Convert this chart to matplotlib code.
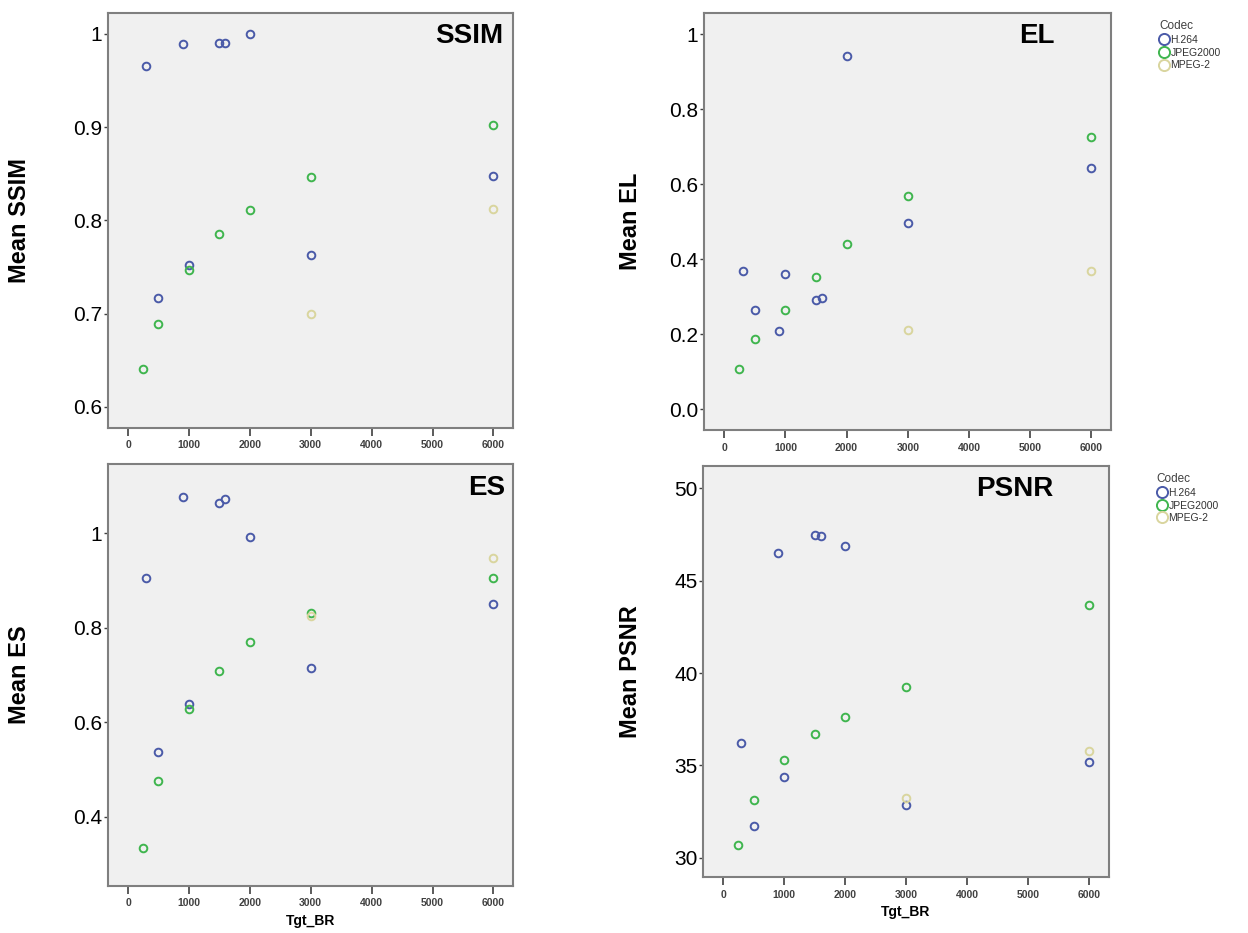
import matplotlib
matplotlib.use("Agg")
import matplotlib.pyplot as plt
from matplotlib.lines import Line2D

plt.rcParams['font.family'] = ['Liberation Sans', 'DejaVu Sans']

codecs = ["H.264", "JPEG2000", "MPEG-2"]
colors = {"H.264": "#4a5aa8", "JPEG2000": "#3fb54e", "MPEG-2": "#d9d59e"}

# target bit rates per codec
br_h264 = [300, 500, 900, 1000, 1500, 1600, 2000, 3000, 6000]
br_jpeg = [250, 500, 1000, 1500, 2000, 3000, 6000]
br_mpeg = [3000, 6000]

ssim_h264 = [0.966, 0.717, 0.989, 0.752, 0.990, 0.990, 1.000, 0.763, 0.848]
ssim_jpeg = [0.641, 0.689, 0.747, 0.785, 0.811, 0.847, 0.902]
ssim_mpeg = [0.700, 0.812]

el_h264 = [0.367, 0.263, 0.208, 0.360, 0.290, 0.296, 0.941, 0.497, 0.644]
el_jpeg = [0.106, 0.187, 0.265, 0.352, 0.439, 0.568, 0.725]
el_mpeg = [0.212, 0.367]

es_h264 = [0.904, 0.537, 1.077, 0.639, 1.064, 1.073, 0.992, 0.715, 0.851]
es_jpeg = [0.334, 0.476, 0.629, 0.709, 0.769, 0.832, 0.906]
es_mpeg = [0.825, 0.947]

psnr_h264 = [36.22, 31.73, 46.47, 34.39, 47.45, 47.39, 46.85, 32.86, 35.18]
psnr_jpeg = [30.70, 33.13, 35.27, 36.69, 37.64, 39.24, 43.69]
psnr_mpeg = [33.22, 35.77]

x_ticks = [0, 1000, 2000, 3000, 4000, 5000, 6000]

fig = plt.figure(figsize=(12.48, 9.33), dpi=100)

panels = [
    # rect, name, series, ylim, yticks, yticklabels, title x, ylabel x
    ([0.0865, 0.5413, 0.3245, 0.4448], "SSIM",
     (ssim_h264, ssim_jpeg, ssim_mpeg), (0.5775, 1.0225),
     [0.6, 0.7, 0.8, 0.9, 1.0], ["0.6", "0.7", "0.8", "0.9", "1"], 0.975, -0.19),
    ([0.5641, 0.5391, 0.3261, 0.4469], "EL",
     (el_h264, el_jpeg, el_mpeg), (-0.056, 1.056),
     [0.0, 0.2, 0.4, 0.6, 0.8, 1.0], ["0.0", "0.2", "0.4", "0.6", "0.8", "1"], 0.862, -0.152),
    ([0.0865, 0.0504, 0.3245, 0.4523], "ES",
     (es_h264, es_jpeg, es_mpeg), (0.254, 1.146),
     [0.4, 0.6, 0.8, 1.0], ["0.4", "0.6", "0.8", "1"], 0.98, -0.19),
    ([0.5633, 0.0600, 0.3253, 0.4405], "PSNR",
     (psnr_h264, psnr_jpeg, psnr_mpeg), (28.97, 51.19),
     [30, 35, 40, 45, 50], ["30", "35", "40", "45", "50"], 0.862, -0.15),
]

for i, (rect, name, series, ylim, yt, ytl, tx, lx) in enumerate(panels):
    ax = fig.add_axes(rect)
    ax.set_facecolor("#f0f0f0")
    for br, vals, c in zip((br_h264, br_jpeg, br_mpeg), series, codecs):
        ax.plot(br, vals, linestyle="none", marker="o", markersize=5.5,
                markerfacecolor="none", markeredgecolor=colors[c],
                markeredgewidth=1.4)
    ax.set_xlim(-330, 6320)
    ax.set_ylim(*ylim)
    ax.set_xticks(x_ticks)
    ax.set_xticklabels([str(t) for t in x_ticks], fontsize=7.5,
                       fontweight="bold", color="#404040")
    ax.set_yticks(yt)
    ax.set_yticklabels(ytl, fontsize=15)
    ax.tick_params(axis="x", length=6, width=1.2, color="#404040", pad=3)
    ax.tick_params(axis="y", length=3, width=1, color="#404040", pad=1)
    for s in ax.spines.values():
        s.set_color("#7f7f7f")
        s.set_linewidth(1.5)
    ax.set_ylabel("Mean " + name, fontsize=17, fontweight="bold")
    ax.yaxis.set_label_coords(lx, 0.5)
    ax.text(tx, 0.975, name, transform=ax.transAxes, ha="right", va="top",
            fontsize=20, fontweight="bold")
    if i >= 2:
        ax.set_xlabel("Tgt_BR", fontsize=10, fontweight="bold", labelpad=4)
    if i % 2 == 1:
        handles = [Line2D([], [], linestyle="none", marker="o", markersize=8,
                          markerfacecolor="none", markeredgecolor=colors[c],
                          markeredgewidth=1.4) for c in codecs]
        leg = ax.legend(handles, codecs, title="Codec", loc="upper left",
                        bbox_to_anchor=(1.1, 1.0), frameon=False,
                        fontsize=7.5, title_fontsize=8.5, handletextpad=0.1,
                        handlelength=1.0, borderpad=0.2, labelspacing=0.25)
        leg._legend_box.align = "left"
        for t in leg.get_texts():
            t.set_color("#333333")
        leg.get_title().set_color("#404040")

fig.savefig("out.png", dpi=100)
